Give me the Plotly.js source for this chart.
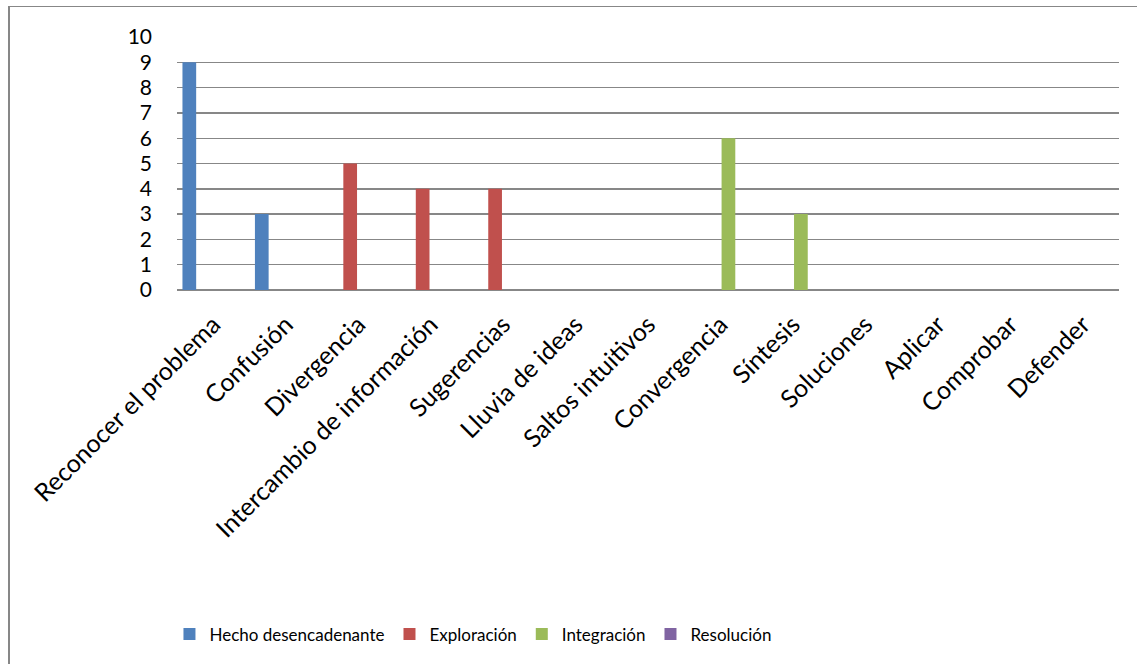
<!DOCTYPE html>
<html>
<head>
<meta charset="utf-8">
<script src="https://cdn.plot.ly/plotly-3.0.1.min.js"></script>
<style>
  html, body { margin: 0; padding: 0; background: #fff; overflow: hidden; }
  #chart { position: absolute; left: 0; top: 0; width: 1137px; height: 664px; }
  #frame { position: absolute; left: 8px; top: 6px; width: 1200px; height: 700px;
           border-left: 2px solid #878787; border-top: 1px solid #878787; pointer-events: none; }
</style>
</head>
<body>
<div id="frame"></div>
<div id="chart"></div>
<script>
const categories = ["Reconocer el problema", "Confusión", "Divergencia", "Intercambio de información",
  "Sugerencias", "Lluvia de ideas", "Saltos intuitivos", "Convergencia", "Síntesis",
  "Soluciones", "Aplicar", "Comprobar", "Defender"];
const seriesNames = ["Hecho desencadenante", "Exploración", "Integración", "Resolución"];
const hechoValues =      [9, 3, null, null, null, null, null, null, null, null, null, null, null];
const exploracionValues = [null, null, 5, 4, 4, null, null, null, null, null, null, null, null];
const integracionValues = [null, null, null, null, null, null, null, 6, 3, null, null, null, null];
const resolucionValues  = [null, null, null, null, null, null, null, null, null, null, null, null, null];
const yTicks = [0, 1, 2, 3, 4, 5, 6, 7, 8, 9, 10];

const colors = ["#4F81BD", "#C0504D", "#9BBB59", "#8064A2"];
const allValues = [hechoValues, exploracionValues, integracionValues, resolucionValues];

const traces = allValues.map((vals, i) => ({
  type: "bar",
  name: seriesNames[i],
  x: categories,
  y: vals,
  marker: { color: colors[i], line: { width: 0 } },
  hoverinfo: "x+y+name"
}));

const font = "Lato, 'Open Sans', sans-serif";

const layout = {
  width: 1137,
  height: 664,
  margin: { l: 177, r: 18, t: 37, b: 374 },
  paper_bgcolor: "rgba(0,0,0,0)",
  plot_bgcolor: "rgba(0,0,0,0)",
  barmode: "group",
  bargap: 0.12,
  bargroupgap: 0.14,
  font: { family: font, color: "#000" },
  xaxis: {
    type: "category",
    tickangle: -45,
    tickfont: { family: font, size: 25, color: "#000" },
    showgrid: false,
    showline: false,
    zeroline: false,
    ticks: "",
    ticklabelstandoff: 14
  },
  yaxis: {
    range: [0, 10],
    tickvals: yTicks,
    ticktext: yTicks.map(String),
    tickfont: { family: font, size: 21, color: "#000" },
    showgrid: true,
    gridcolor: "#878787",
    gridwidth: 1.4,
    zeroline: true,
    zerolinecolor: "#878787",
    zerolinewidth: 1.4,
    showline: false,
    ticks: "",
    ticklabelstandoff: 24
  },
  showlegend: true,
  legend: {
    orientation: "h",
    x: -0.008,
    xanchor: "left",
    y: -1.29,
    yanchor: "top",
    font: { family: font, size: 17, color: "#000" },
    bgcolor: "rgba(0,0,0,0)",
    traceorder: "normal"
  }
};

Plotly.newPlot("chart", traces, layout, { displayModeBar: false, staticPlot: true });
</script>
</body>
</html>
